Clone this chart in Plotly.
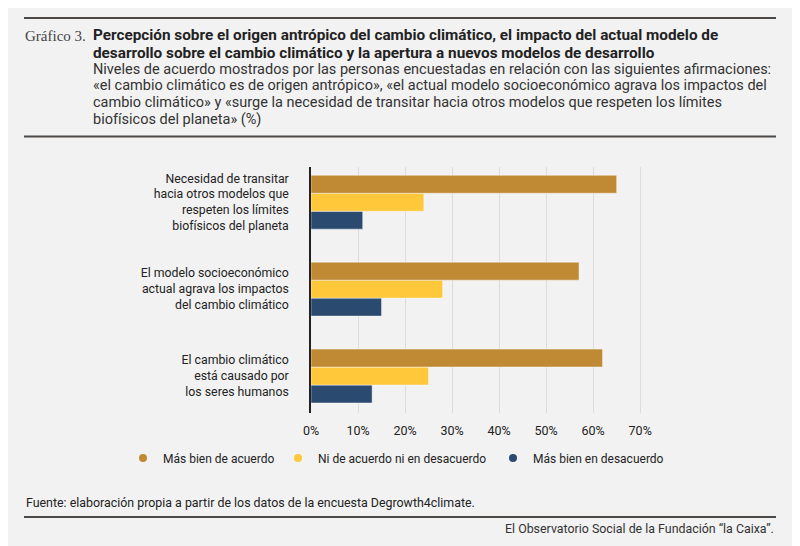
import plotly.graph_objects as go

# datos (%)
categorias = [
    "El cambio climático<br>está causado por<br>los seres humanos",
    "El modelo socioeconómico<br>actual agrava los impactos<br>del cambio climático",
    "Necesidad de transitar<br>hacia otros modelos que<br>respeten los límites<br>biofísicos del planeta",
]
de_acuerdo = [62, 57, 65]
ni_ni = [25, 28, 24]
desacuerdo = [13, 15, 11]

series = ["Más bien de acuerdo", "Ni de acuerdo ni en desacuerdo", "Más bien en desacuerdo"]
colores = ["#bf8a33", "#ffc73a", "#2b4a70"]
ticks = [0, 10, 20, 30, 40, 50, 60, 70]

# la página añade 8 px de margen, así que la figura ocupa 792x538 visibles
OFF = 8
W, H = 800 - OFF, 546 - OFF
L, T = 311 - OFF, 167 - OFF
PW, PH = 348, 246
R, B = W - L - PW, H - T - PH

def px(x):
    return (x - OFF - L) / PW

def py(y):
    return (T + PH - (y - OFF)) / PH

FONT = "Roboto"
fig = go.Figure()

# barras: la primera traza queda abajo dentro del grupo
for name, vals, col in zip(series[::-1], [desacuerdo, ni_ni, de_acuerdo], colores[::-1]):
    fig.add_trace(go.Bar(
        y=categorias, x=vals, name=name, orientation="h",
        marker=dict(color=col, line=dict(color="rgba(255,255,255,0.45)", width=1)),
        showlegend=False,
        hovertemplate="%{x}%<extra>" + name + "</extra>",
    ))

# leyenda (marcadores circulares), una leyenda por serie para fijar su posición
leg_x = [123, 278, 493]
for i, (name, col) in enumerate(zip(series, colores)):
    key = "legend" if i == 0 else f"legend{i + 1}"
    fig.add_trace(go.Scatter(
        x=[None], y=[None], mode="markers", name=name,
        marker=dict(color=col, size=8, symbol="circle"),
        legend=key, hoverinfo="skip",
    ))

legend_common = dict(
    orientation="h", yanchor="middle", xanchor="left",
    bgcolor="rgba(0,0,0,0)", font=dict(family=FONT, size=12, color="#222"),
    itemwidth=30,
)
fig.update_layout(
    legend=dict(x=px(leg_x[0]), y=py(458), **legend_common),
    legend2=dict(x=px(leg_x[1]), y=py(458), **legend_common),
    legend3=dict(x=px(leg_x[2]), y=py(458), **legend_common),
)

fig.update_layout(
    width=W, height=H,
    margin=dict(l=L, r=R, t=T, b=B),
    paper_bgcolor="#f2f2f2", plot_bgcolor="#f2f2f2",
    barmode="group", bargap=0.38, bargroupgap=0,
    font=dict(family=FONT, size=12, color="#222"),
    xaxis=dict(
        range=[0, 74], tickvals=ticks, ticktext=[f"{t}%" for t in ticks],
        showgrid=True, gridcolor="#dcdcdc", gridwidth=1, zeroline=False,
        showline=False, ticks="outside", ticklen=6, tickcolor="rgba(0,0,0,0)",
        tickfont=dict(size=12.5, color="#222"),
    ),
    yaxis=dict(
        range=[-0.425, 2.405], showgrid=False, zeroline=False,
        showline=True, linecolor="#222", linewidth=1.5,
        ticks="outside", ticklen=18, tickcolor="rgba(0,0,0,0)",
        tickfont=dict(size=12.3, color="#222"),
    ),
)

# reglas horizontales
for y in [18, 136.5, 517]:
    fig.add_shape(type="line", xref="paper", yref="paper",
                  x0=px(24), x1=px(776), y0=py(y), y1=py(y),
                  line=dict(color="#4d4a48", width=2))

def texto(x, y, s, size=14, color="#222", family=FONT, xanchor="left"):
    fig.add_annotation(xref="paper", yref="paper", x=px(x), y=py(y), text=s,
                       showarrow=False, xanchor=xanchor, yanchor="middle",
                       font=dict(family=family, size=size, color=color))

texto(23, 36, "Gráfico 3.", size=15, color="#444", family="Liberation Serif")
titulo = [
    "Percepción sobre el origen antrópico del cambio climático, el impacto del actual modelo de",
    "desarrollo sobre el cambio climático y la apertura a nuevos modelos de desarrollo",
]
subtitulo = [
    "Niveles de acuerdo mostrados por las personas encuestadas en relación con las siguientes afirmaciones:",
    "«el cambio climático es de origen antrópico», «el actual modelo socioeconómico agrava los impactos del",
    "cambio climático» y «surge la necesidad de transitar hacia otros modelos que respeten los límites",
    "biofísicos del planeta» (%)",
]
for i, s in enumerate(titulo):
    texto(91, 35 + 17.5 * i, f"<b>{s}</b>", size=15.3, color="#222")
for i, s in enumerate(subtitulo):
    texto(91, 69.5 + 16.5 * i, s, size=14.5, color="#333")

texto(24, 503, "Fuente: elaboración propia a partir de los datos de la encuesta Degrowth4climate.", size=12.4)
texto(776, 528, "El Observatorio Social de la Fundación “la Caixa”.", size=12.4, color="#333", xanchor="right")

fig.write_html("out.html")
